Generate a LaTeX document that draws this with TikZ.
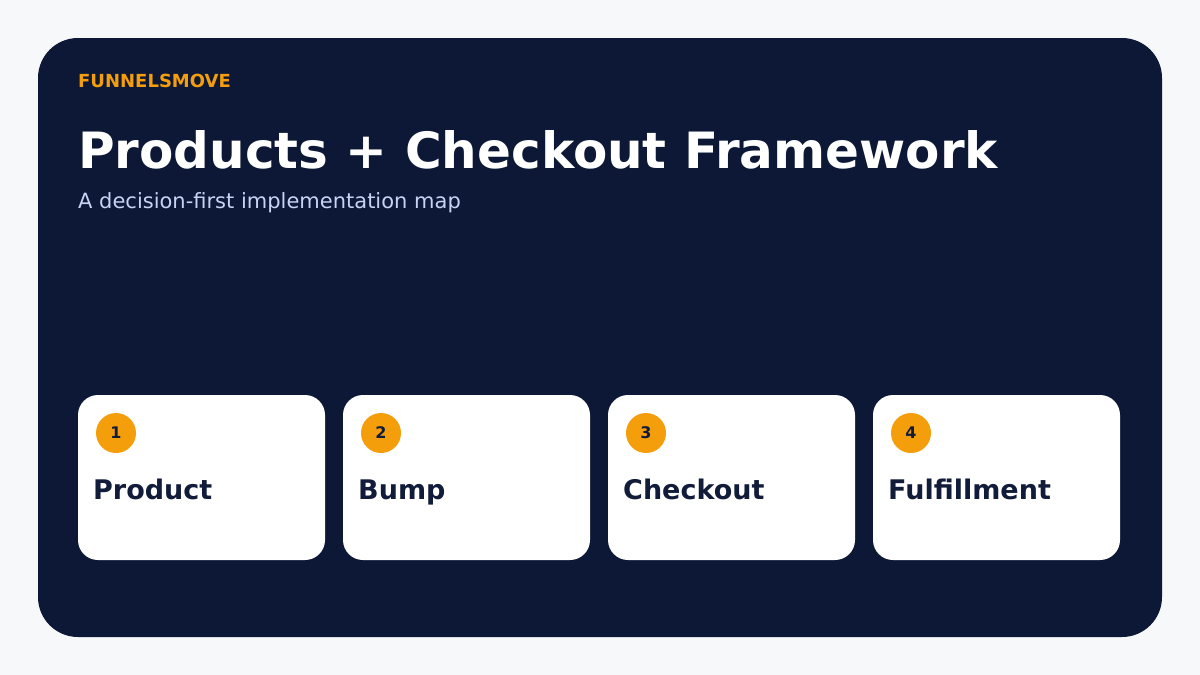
\documentclass[tikz,border=0pt]{standalone}
\usepackage{fontspec}
\setmainfont{DejaVu Sans}
\definecolor{pagebg}{HTML}{F6F8FA}
\definecolor{navy}{HTML}{0C1836}
\definecolor{accent}{HTML}{F59E0B}
\definecolor{inkdark}{HTML}{111C3A}
\definecolor{subtle}{HTML}{C7D2F5}
\tikzset{
  card/.style={fill=white, rounded corners=20pt},
  badge/.style={circle, fill=accent, minimum size=40pt, inner sep=0pt, font=\bfseries\fontsize{16}{16}\selectfont, text=inkdark},
  cardlabel/.style={anchor=base west, inner sep=0pt, font=\bfseries\fontsize{27}{27}\selectfont, text=inkdark},
}
\begin{document}
\begin{tikzpicture}[x=1pt,y=-1pt]
\fill[pagebg] (0,0) rectangle (1200,675);
\useasboundingbox (0,0) rectangle (1200,675);
\fill[navy, rounded corners=40pt] (38,38) rectangle (1162,637);
\node[anchor=base west, inner sep=0pt, text=accent, font=\bfseries\fontsize{18}{18}\selectfont] (brand) at (78,87) {FUNNELSMOVE};
\node[anchor=base west, inner sep=0pt, text=white, font=\bfseries\fontsize{50}{50}\selectfont] (title) at (78,168) {Products + Checkout Framework};
\node[anchor=base west, inner sep=0pt, text=subtle, font=\fontsize{21}{21}\selectfont] (sub) at (78,208) {A decision-first implementation map};
\foreach \i/\x/\lab in {1/78/Product, 2/343/Bump, 3/608/Checkout, 4/873/Fulfillment}{
  \fill[card] (\x,395) rectangle ++(247,165);
  \node[badge] (b\i) at (\x+38,433) {\i};
  \node[cardlabel] (l\i) at (\x+15,499) {\lab};
}
\end{tikzpicture}
\end{document}
